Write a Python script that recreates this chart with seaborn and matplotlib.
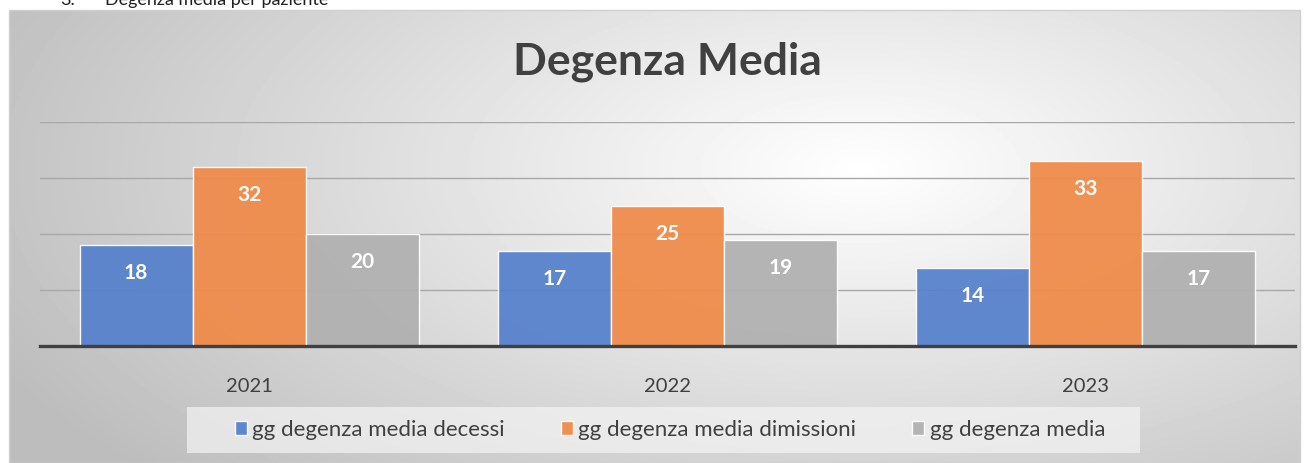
import numpy as np
import pandas as pd
import matplotlib
matplotlib.use('Agg')
import matplotlib.pyplot as plt
import seaborn as sns
from matplotlib.patches import Rectangle

# dati
anni = ['2021', '2022', '2023']
decessi = [18, 17, 14]
dimissioni = [32, 25, 33]
media = [20, 19, 17]
serie = ['gg degenza media decessi', 'gg degenza media dimissioni', 'gg degenza media']
colori = ['#5580CC', '#F08A48', '#B0B0B0']

df = pd.DataFrame({
    'anno': anni * 3,
    'serie': [serie[0]] * 3 + [serie[1]] * 3 + [serie[2]] * 3,
    'valore': decessi + dimissioni + media,
})

sns.set_theme(style='white')
plt.rcParams['font.family'] = ['Lato', 'DejaVu Sans']

W, H = 1307, 463
fig = plt.figure(figsize=(W / 100, H / 100), dpi=100)

# sfondo con gradiente radiale (stile Excel)
bg = fig.add_axes([9 / W, 0, (1300 - 9) / W, (H - 10) / H])
xx, yy = np.meshgrid(np.linspace(0, 1, 400), np.linspace(0, 1, 150))
r = np.sqrt(((xx - 0.66) / 0.75) ** 2 + ((yy - 0.35) / 1.0) ** 2)
r = np.clip(r, 0, 1)
bg.imshow(1 - 0.26 * r, cmap='gray', vmin=0, vmax=1, aspect='auto',
          extent=[0, 1, 1, 0], interpolation='bilinear')
bg.set_xlim(0, 1)
bg.set_ylim(1, 0)
bg.axis('off')
bg.add_patch(Rectangle((0, 0), 1, 1, fill=False, edgecolor='#d0d0d0', lw=1,
                       transform=bg.transAxes, clip_on=False))

# didascalia tagliata in alto
fig.text(60 / W, 1.0, '3.', fontsize=13, color='#202020', va='center')
fig.text(105 / W, 1.0, 'Degenza media per paziente', fontsize=13, color='#202020', va='center')

ax = fig.add_axes([40 / W, 117 / H, (1295 - 40) / W, (346 - 122) / H])
ax.patch.set_alpha(0)
sns.barplot(data=df, x='anno', y='valore', hue='serie', palette=colori,
            width=0.81, alpha=0.93, saturation=1, edgecolor='white', linewidth=1,
            ax=ax, zorder=3)

ax.set_ylim(0, 40)
ax.set_xlim(-0.5, 2.5)
ax.set_yticks([10, 20, 30, 40])
ax.yaxis.grid(True, color='#a8a8a8', lw=1)
ax.set_axisbelow(True)
ax.tick_params(axis='y', left=False, labelleft=False)
ax.tick_params(axis='x', bottom=False, labelsize=14.5, colors='#404040', pad=17)
ax.set_xlabel('')
ax.set_ylabel('')
for s in ['top', 'right', 'left']:
    ax.spines[s].set_visible(False)
ax.spines['bottom'].set_color('#404040')
ax.spines['bottom'].set_linewidth(2.4)
ax.spines['bottom'].set_zorder(5)

for cont in ax.containers:
    for bar in cont:
        v = bar.get_height()
        ax.annotate(f'{v:.0f}', (bar.get_x() + bar.get_width() / 2, v),
                    xytext=(0, -28), textcoords='offset pixels',
                    ha='center', va='center', color='white', fontsize=15,
                    fontweight='bold', zorder=6)

# riquadro della legenda
fig.patches.append(Rectangle((187 / W, 1 - 453 / H), (1140 - 187) / W, 46 / H,
                             transform=fig.transFigure, facecolor='#f4f4f4',
                             alpha=0.7, edgecolor='none', zorder=1))

ax.legend_.remove()
handles = [Rectangle((0, 0), 1, 1, facecolor=c, alpha=0.93) for c in colori]
leg = fig.legend(handles, serie, loc='center', bbox_to_anchor=(670 / W, 1 - 430 / H),
                 ncol=3, frameon=False, fontsize=16, handlelength=0.55, handleheight=0.55,
                 handletextpad=0.25, columnspacing=2.5)
for t in leg.get_texts():
    t.set_color('#404040')

fig.text(667 / W, 1 - 62 / H, 'Degenza Media', fontsize=32, fontweight='bold',
         color='#404040', ha='center', va='center')

fig.savefig('out.png', dpi=100)
